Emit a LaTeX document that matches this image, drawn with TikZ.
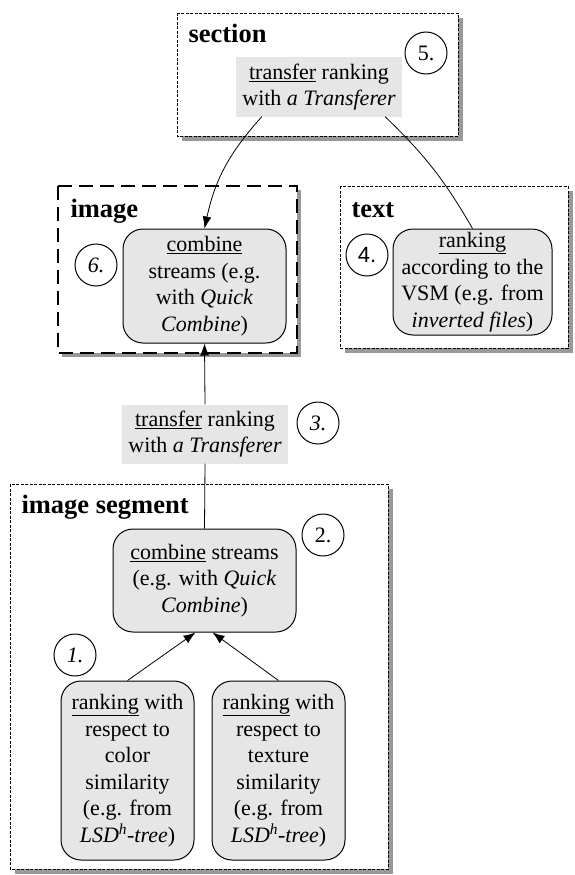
\documentclass[tikz,border=0pt]{standalone}
\usepackage{fontspec}
\setmainfont{Liberation Serif}
\newfontfamily\numsans{Liberation Sans}
\usepackage{xcolor}
\usetikzlibrary{arrows.meta}
\definecolor{boxgray}{HTML}{E6E6E6}
\definecolor{shadegray}{HTML}{999999}

\begin{document}
\begin{tikzpicture}[x=1pt,y=-1pt,
  font=\fontsize{22}{26.5}\selectfont,
  >={Latex[length=12pt,width=9pt]},
  stage/.style={draw,line width=1pt,fill=boxgray,rounded corners=20pt,align=center,inner sep=0pt},
  xfer/.style={fill=boxgray,align=center,inner sep=0pt,minimum width=166pt,minimum height=59pt},
  stepnum/.style={draw,circle,line width=1pt,minimum size=42pt,inner sep=0pt},
  grp/.style={draw,fill=white,line width=0.9pt,dash pattern=on 3pt off 1.5pt},
  grpshade/.style={fill=shadegray},
  grptitle/.style={anchor=base west,font=\fontsize{26.5}{30}\selectfont\bfseries}]

  \useasboundingbox (0,0) rectangle (575,875);

  % group frames with their shadows
  \fill[grpshade] (182,18) rectangle (463,141);
  \draw[grp] (177,13) rectangle (458,136);
  \fill[grpshade] (62,190) rectangle (301,357);
  \draw[fill=white,line width=2.5pt,dash pattern=on 14pt off 7pt] (58,186) rectangle (297,353);
  \fill[grpshade] (345,191) rectangle (573,353);
  \draw[grp] (340,186) rectangle (568,348);
  \fill[grpshade] (15,489) rectangle (393,874);
  \draw[grp] (10,484) rectangle (388,869);

  % section
  \node[grptitle] (tsec) at (185,43) {section};
  \node[xfer] (slabel) at (319,87) {\underline{transfer} ranking\\with \textit{a Transferer}};
  \node[stepnum] (n5) at (426,53) {5.};

  % image
  \node[grptitle] (timg) at (67,217) {image};
  \node[stage,minimum width=163pt,minimum height=114pt] (icomb) at (204.5,286)
    {\underline{combine}\\streams (e.g.\\with \textit{Quick}\\\textit{Combine})};
  \node[stepnum] (n6) at (96,265) {\textit{6.}};

  % text
  \node[grptitle] (ttxt) at (348,217) {text};
  \node[stage,minimum width=159pt,minimum height=106pt] (tnode) at (472.5,282)
    {\underline{ranking}\\according to the\\VSM (e.g. from\\\textit{inverted files})};
  \node[stepnum] (n4) at (367,255) {\numsans 4.};

  % transfer between segment and image
  \node[xfer] (mlabel) at (205,434) {\underline{transfer} ranking\\with \textit{a Transferer}};
  \node[stepnum] (n3) at (318,423) {\textit{3.}};

  % image segment
  \node[grptitle] (tseg) at (18,513) {image segment};
  \node[stage,minimum width=183pt,minimum height=103pt] (scomb) at (204.5,580.5)
    {\underline{combine} streams\\(e.g. with \textit{Quick}\\\textit{Combine})};
  \node[stepnum] (n2) at (323,535) {2.};
  \node[stepnum] (n1) at (75,655) {\textit{1.}};
  \node[stage,minimum width=133pt,minimum height=179pt] (cnode) at (127.5,770.5)
    {\underline{ranking} with\\respect to\\color\\similarity\\(e.g. from\\\textit{LSD\textsuperscript{h}-tree})};
  \node[stage,minimum width=133pt,minimum height=179pt] (xnode) at (278.5,770.5)
    {\underline{ranking} with\\respect to\\texture\\similarity\\(e.g. from\\\textit{LSD\textsuperscript{h}-tree})};

  % connectors
  \draw[->,line width=0.8pt] ([xshift=26pt]slabel.south west) to[bend right=15] (icomb.north);
  \draw[line width=0.8pt] ([xshift=-17pt]slabel.south east) to[bend left=8] (tnode.north);
  \draw[->,line width=0.8pt] (mlabel.north) -- (icomb.south);
  \draw[line width=0.8pt] (scomb.north) -- (mlabel.south);
  \draw[->,line width=0.8pt] (cnode.north) -- ([xshift=-9pt]scomb.south);
  \draw[->,line width=0.8pt] (xnode.north) -- ([xshift=8pt]scomb.south);

\end{tikzpicture}
\end{document}
